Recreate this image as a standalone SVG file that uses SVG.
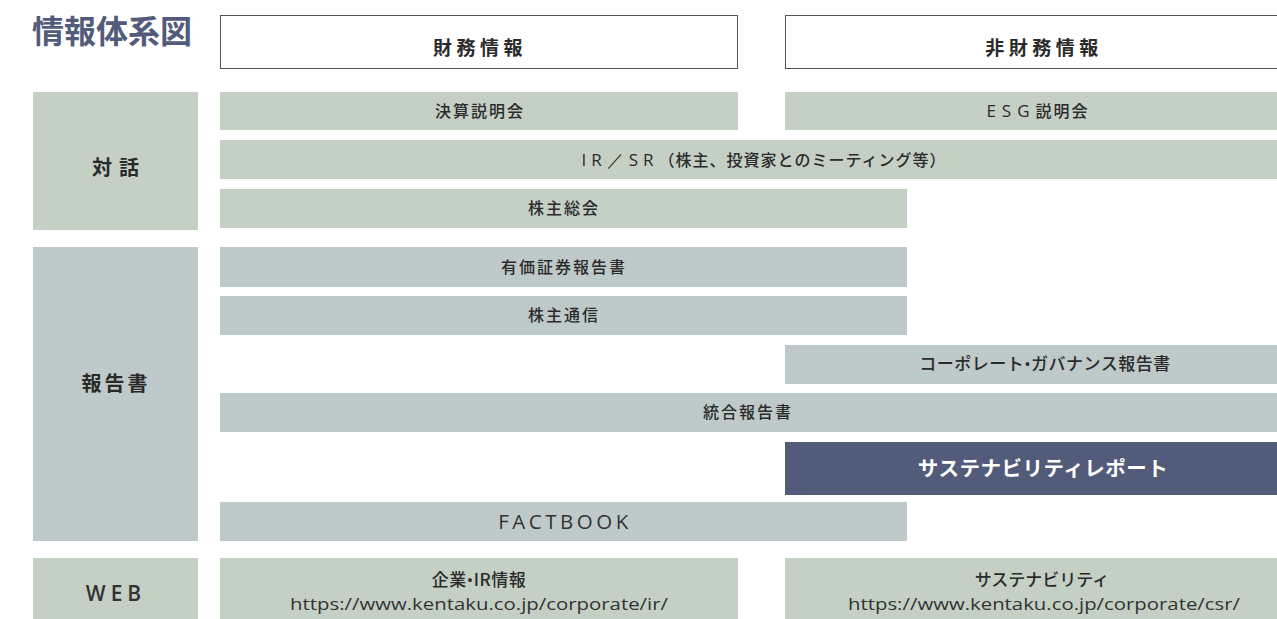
<svg xmlns="http://www.w3.org/2000/svg" width="1277" height="619" viewBox="0 0 1277 619">
<style>
.g{fill:#c3d0c3}
.s{fill:#bec9c9}
.hd{fill:#fff;stroke:#555;stroke-width:1}
.t{font-family:"Noto Sans CJK JP","Noto Sans",sans-serif;font-size:16px;fill:#2b2b2b;text-anchor:middle;font-weight:500;letter-spacing:2px}
.h{font-family:"Noto Sans CJK JP","Noto Sans",sans-serif;font-size:19px;fill:#2a2a2a;text-anchor:middle;font-weight:700;letter-spacing:4.5px}
.l{font-family:"Noto Sans CJK JP","Noto Sans",sans-serif;font-size:20px;fill:#2a2a2a;text-anchor:middle;font-weight:700}
.e{font-family:"Open Sans","Lato",sans-serif;fill:#333;text-anchor:middle}
</style>
<rect width="1277" height="619" fill="#fff"/>
<g id="title"><text x="32" y="43" font-family="'Noto Sans CJK JP',sans-serif" font-size="32" font-weight="700" fill="#525c7a">情報体系図</text></g>
<g id="hdr-fin"><rect class="hd" x="220.5" y="15.5" width="517" height="53"/><text class="h" x="480" y="55">財務情報</text></g>
<g id="hdr-nonfin"><rect class="hd" x="785.5" y="15.5" width="520" height="53"/><text class="h" x="1044" y="55">非財務情報</text></g>
<g id="cat-dialog"><rect class="g" x="33" y="92" width="165" height="138"/><text class="l" x="119" y="175" letter-spacing="7">対話</text></g>
<g id="cat-report"><rect class="s" x="33" y="247" width="165" height="294"/><text class="l" x="116" y="391" letter-spacing="3">報告書</text></g>
<g id="cat-web"><rect class="g" x="33" y="558" width="165" height="61"/><text class="e" x="116" y="601" font-size="21" letter-spacing="5" font-weight="600">WEB</text></g>
<g id="kessan"><rect class="g" x="220" y="92" width="518" height="38"/><text class="t" x="480" y="117">決算説明会</text></g>
<g id="esg"><rect class="g" x="785" y="92" width="520" height="38"/><text class="t" x="1038" y="117"><tspan letter-spacing="6" font-family="Open Sans, sans-serif" font-weight="400" font-size="17">ESG</tspan>説明会</text></g>
<g id="irsr"><rect class="g" x="220" y="140" width="1085" height="39"/><text class="t" x="764" y="166" style="letter-spacing:1px"><tspan letter-spacing="5" font-family="Open Sans, sans-serif" font-weight="400" font-size="17">IR／SR</tspan>（株主、投資家とのミーティング等）</text></g>
<g id="soukai"><rect class="g" x="220" y="189" width="687" height="39"/><text class="t" x="564" y="214">株主総会</text></g>
<g id="yuho"><rect class="s" x="220" y="247" width="687" height="40"/><text class="t" x="564" y="273">有価証券報告書</text></g>
<g id="tsushin"><rect class="s" x="220" y="296" width="687" height="39"/><text class="t" x="564" y="321">株主通信</text></g>
<g id="cg"><rect class="s" x="785" y="345" width="520" height="39"/><text class="t" x="1045" y="370" style="letter-spacing:0.5px;font-size:17px">コーポレート<tspan font-family="Open Sans, sans-serif">•</tspan>ガバナンス報告書</text></g>
<g id="togo"><rect class="s" x="220" y="393" width="1085" height="39"/><text class="t" x="748" y="418">統合報告書</text></g>
<g id="sust-report"><rect fill="#525b7a" x="785" y="442" width="520" height="53"/><text class="t" x="1043" y="476" style="font-size:20.5px;fill:#fff;font-weight:700;letter-spacing:0.5px">サステナビリティレポート</text></g>
<g id="factbook"><rect class="s" x="220" y="502" width="687" height="39"/><text class="e" x="565" y="529" font-size="20.5" letter-spacing="3.5">FACTBOOK</text></g>
<g id="web-ir"><rect class="g" x="220" y="558" width="518" height="61"/><text class="t" x="479" y="586" style="font-size:17px;letter-spacing:0.5px">企業<tspan font-family="Open Sans, sans-serif">•</tspan>IR情報</text><text class="e" x="479" y="610" font-size="17" textLength="378" lengthAdjust="spacingAndGlyphs">https://www.kentaku.co.jp/corporate/ir/</text></g>
<g id="web-csr"><rect class="g" x="785" y="558" width="520" height="61"/><text class="t" x="1042" y="586" style="font-size:17px;letter-spacing:0px">サステナビリティ</text><text class="e" x="1044" y="610" font-size="17" textLength="392" lengthAdjust="spacingAndGlyphs">https://www.kentaku.co.jp/corporate/csr/</text></g>
<g id="connectors"></g>
</svg>
